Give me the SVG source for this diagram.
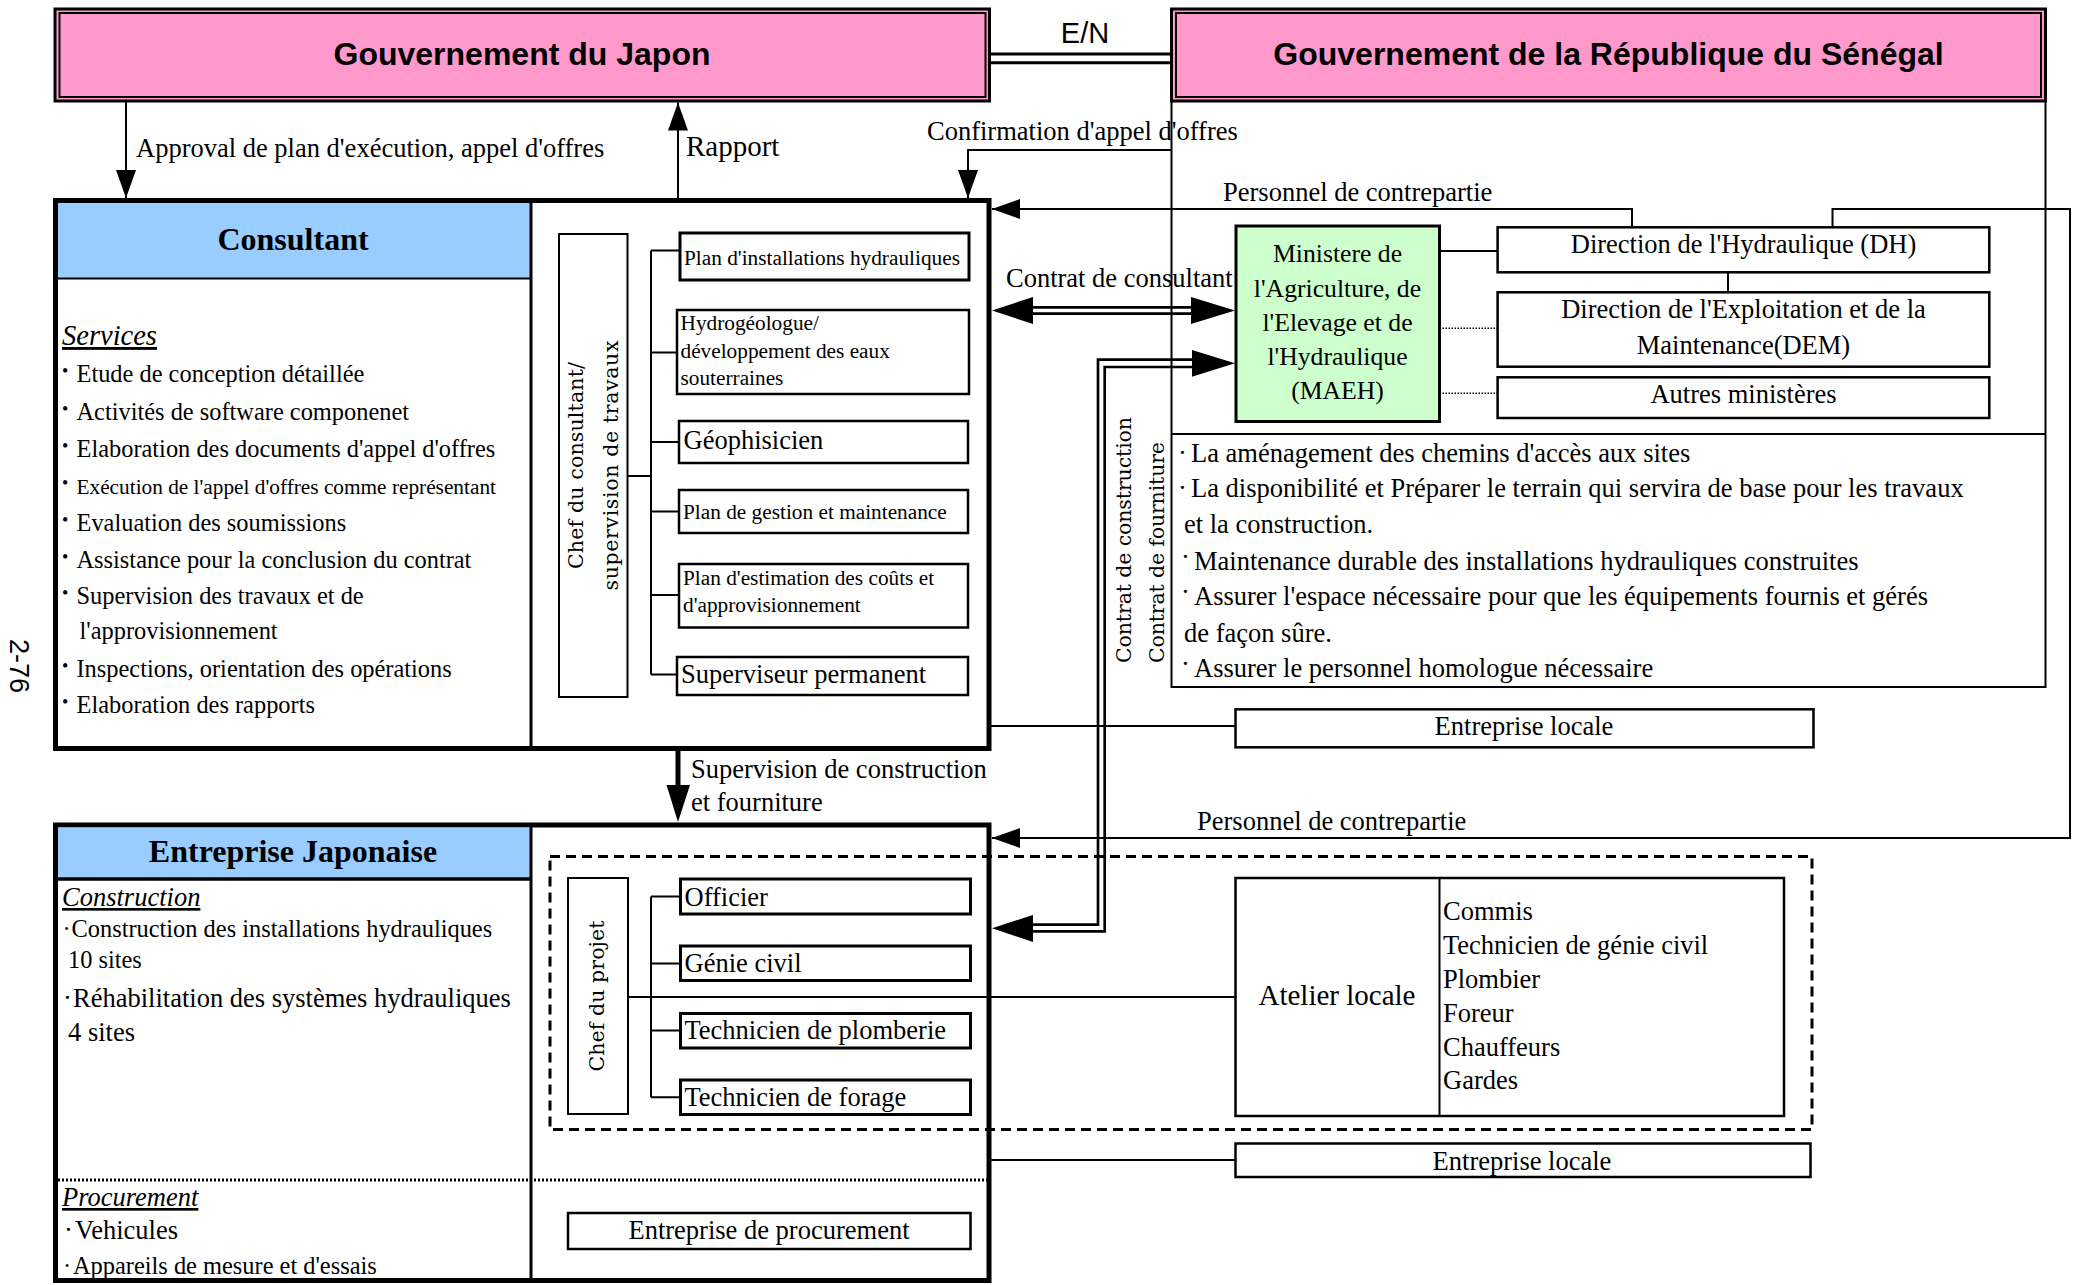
<svg xmlns="http://www.w3.org/2000/svg" width="2076" height="1285" viewBox="0 0 2076 1285">
  <style>
    .s { font-family: 'Liberation Serif', 'Times New Roman', serif; fill: #000; }
    .sans { font-family: 'Liberation Sans', Arial, sans-serif; fill: #000; }
    .bold { font-weight: bold; }
    .r { font-family: 'DejaVu Serif', 'Liberation Serif', serif; fill: #000; font-size: 20.5px; }
    .f21 { font-size: 21.3px; }
    .f24 { font-size: 24.4px; }
    .f26 { font-size: 26.5px; }
    .mid { text-anchor: middle; }
    .ul { text-decoration: underline; font-style: italic; }
    .box { fill: #fff; stroke: #000; stroke-width: 2.5; }
    .thk { fill: #fff; stroke: #000; stroke-width: 3; }
    .ln { fill: none; stroke: #000; stroke-width: 2; }
    .dbl { fill: none; stroke: #000; stroke-width: 2.7; }
    .dot { fill: none; stroke: #000; stroke-width: 1.5; stroke-dasharray: 1.5 1.5; }
    .bul { font-family: 'Liberation Serif', 'Times New Roman', serif; font-size: 18px; }
  </style>
  <defs>
    <marker id="arr" viewBox="0 0 28 20" refX="28" refY="10" markerWidth="28" markerHeight="20" markerUnits="userSpaceOnUse" orient="auto">
      <path d="M0,0 L28,10 L0,20 z" fill="#000"/>
    </marker>
  </defs>

  <rect width="2076" height="1285" fill="#fff"/>

  <!-- page number -->
  <text class="sans" font-size="27" transform="translate(10,639) rotate(90)">2-76</text>

  <!-- Government of Japan -->
  <g id="gov-japon">
    <rect x="55" y="9" width="934.5" height="92" fill="#FF99CC" stroke="#000" stroke-width="3"/>
    <rect x="59.5" y="13" width="926" height="84" fill="none" stroke="#000" stroke-width="2"/>
    <text class="sans bold mid" x="522" y="65" font-size="32">Gouvernement du Japon</text>
  </g>

  <!-- Government of Senegal with its enclosure -->
  <g id="gov-senegal">
    <path class="ln" d="M1171.5,101 V687 H2045.5 V101 M1171.5,434 H2045.5" stroke-width="2.5"/>
    <rect x="1171.5" y="9" width="874" height="92" fill="#FF99CC" stroke="#000" stroke-width="3"/>
    <rect x="1176" y="13" width="865" height="84" fill="none" stroke="#000" stroke-width="2"/>
    <text class="sans bold mid" x="1608.5" y="65" font-size="32">Gouvernement de la République du Sénégal</text>
  </g>

  <!-- Senegal obligations -->
  <g id="obligations" class="s f26">
    <text x="1178" y="461.5">·</text><text x="1191" y="461.5">La aménagement des chemins d'accès aux sites</text>
    <text x="1178" y="496.5">·</text><text x="1191" y="496.5">La disponibilité et Préparer le terrain qui servira de base pour les travaux</text>
    <text x="1184" y="532.5">et la construction.</text>
    <text x="1181" y="566">·</text><text x="1194" y="570">Maintenance durable des installations hydrauliques construites</text>
    <text x="1181" y="601">·</text><text x="1194" y="605">Assurer l'espace nécessaire pour que les équipements fournis et gérés</text>
    <text x="1184" y="641.5">de façon sûre.</text>
    <text x="1181" y="672.5">·</text><text x="1194" y="676.5">Assurer le personnel homologue nécessaire</text>
  </g>

  <!-- Ministry -->
  <g id="maeh">
    <rect x="1236" y="226" width="203.5" height="195.5" fill="#CCFFCC" stroke="#000" stroke-width="3"/>
    <g class="s mid" font-size="25.7">
      <text x="1337.5" y="262">Ministere de</text>
      <text x="1337.5" y="297">l'Agriculture, de</text>
      <text x="1337.5" y="330.5">l'Elevage et de</text>
      <text x="1337.5" y="364.5">l'Hydraulique</text>
      <text x="1337.5" y="398.5">(MAEH)</text>
    </g>
  </g>

  <g id="dh">
    <rect class="box" x="1497.6" y="227.3" width="491.7" height="45"/>
    <text class="s f26 mid" x="1743.5" y="253">Direction de l'Hydraulique (DH)</text>
  </g>
  <g id="dem">
    <rect class="box" x="1497.6" y="292.3" width="491.7" height="74.4"/>
    <text class="s f26 mid" x="1743.5" y="318">Direction de l'Exploitation et de la</text>
    <text class="s f26 mid" x="1743.5" y="353.5">Maintenance(DEM)</text>
  </g>
  <g id="autres">
    <rect class="box" x="1497.6" y="377.3" width="491.7" height="40.7"/>
    <text class="s f26 mid" x="1743.5" y="403">Autres ministères</text>
  </g>

  <!-- Consultant -->
  <g id="consultant">
    <rect x="55.5" y="200.5" width="933.5" height="548" fill="#fff" stroke="#000" stroke-width="5"/>
    <rect x="58" y="203" width="472" height="75.5" fill="#99CCFF"/>
    <path class="ln" d="M58,278.5 H531"/>
    <path d="M531,203 V746" stroke="#000" stroke-width="3"/>
    <text class="s bold mid" x="293" y="250" font-size="32">Consultant</text>
    <text class="s ul" x="62" y="345" font-size="28.5">Services</text>
    <g class="bul">
      <text x="62" y="377">•</text><text x="62" y="415">•</text><text x="62" y="452">•</text>
      <text x="62" y="488.5">•</text><text x="62" y="525.5">•</text><text x="62" y="562.5">•</text>
      <text x="62" y="598.5">•</text><text x="62" y="671.5">•</text><text x="62" y="707.5">•</text>
    </g>
    <g class="s f24">
      <text x="76.5" y="382">Etude de conception détaillée</text>
      <text x="76.5" y="420">Activités de software componenet</text>
      <text x="76.5" y="457">Elaboration des documents d'appel d'offres</text>
      <text x="76.5" y="493.5" font-size="21.3">Exécution de l'appel d'offres comme représentant</text>
      <text x="76.5" y="530.5">Evaluation des soumissions</text>
      <text x="76.5" y="567.5">Assistance pour la conclusion du contrat</text>
      <text x="76.5" y="603.5">Supervision des travaux et de</text>
      <text x="79.5" y="639">l'approvisionnement</text>
      <text x="76.5" y="676.5">Inspections, orientation des opérations</text>
      <text x="76.5" y="712.5">Elaboration des rapports</text>
    </g>
  </g>

  <g id="chef-consultant">
    <rect x="559" y="234" width="68.5" height="463" fill="none" stroke="#000" stroke-width="2"/>
    <text class="r mid" transform="translate(583,465.5) rotate(-90)" textLength="207">Chef du consultant/</text>
    <text class="r mid" transform="translate(618,465.5) rotate(-90)" textLength="250">supervision de travaux</text>
  </g>

  <g id="plan-installations">
    <rect class="thk" x="680" y="233" width="289" height="47"/>
    <text class="s f21" x="684" y="265">Plan d'installations hydrauliques</text>
  </g>
  <g id="hydrogeologue">
    <rect class="box" x="677" y="310" width="292" height="84" stroke-width="2"/>
    <text class="s f21" x="680.5" y="330">Hydrogéologue/</text>
    <text class="s f21" x="680.5" y="357.5">développement des eaux</text>
    <text class="s f21" x="680.5" y="385">souterraines</text>
  </g>
  <g id="geophisicien">
    <rect class="box" x="679" y="421" width="289" height="42"/>
    <text class="s f26" x="683.5" y="449">Géophisicien</text>
  </g>
  <g id="plan-gestion">
    <rect class="box" x="679" y="490" width="289" height="43"/>
    <text class="s f21" x="683" y="518.5">Plan de gestion et maintenance</text>
  </g>
  <g id="plan-estimation">
    <rect class="box" x="679" y="564" width="289" height="63.5"/>
    <text class="s f21" x="683" y="585">Plan d'estimation des coûts et</text>
    <text class="s f21" x="683" y="612">d'approvisionnement</text>
  </g>
  <g id="superviseur">
    <rect class="box" x="677" y="657" width="291" height="38"/>
    <text class="s f26" x="681" y="683">Superviseur permanent</text>
  </g>

  <!-- Japanese contractor -->
  <g id="entreprise-japonaise">
    <rect x="55.5" y="825" width="933.5" height="455.5" fill="#fff" stroke="#000" stroke-width="5"/>
    <rect x="58" y="827.5" width="472" height="51" fill="#99CCFF"/>
    <path d="M58,879 H531" stroke="#000" stroke-width="3.5"/>
    <path d="M531,827 V1278" stroke="#000" stroke-width="3"/>
    <path d="M58,1180 H987" stroke="#000" stroke-width="3" stroke-dasharray="2 2"/>
    <text class="s bold mid" x="293" y="862" font-size="32">Entreprise Japonaise</text>
    <text class="s ul f26" x="62" y="906">Construction</text>
    <text class="s f24" x="62.5" y="937">·</text>
    <text class="s f24" x="71.5" y="937">Construction des installations hydrauliques</text>
    <text class="s f24" x="68" y="968">10 sites</text>
    <text class="s f26" x="63" y="1007">·</text>
    <text class="s f26" x="73" y="1007">Réhabilitation des systèmes hydrauliques</text>
    <text class="s f26" x="68" y="1041">4 sites</text>
    <text class="s ul f26" x="62" y="1206">Procurement</text>
    <text class="s f26" x="64" y="1239">·</text>
    <text class="s f26" x="75" y="1239">Vehicules</text>
    <text class="s f24" x="63" y="1273.5">·</text>
    <text class="s f24" x="73" y="1273.5">Appareils de mesure et d'essais</text>
  </g>

  <g id="chantier">
    <rect x="550" y="856.5" width="1262" height="273" fill="none" stroke="#000" stroke-width="3" stroke-dasharray="10 6"/>
  </g>

  <g id="chef-projet">
    <rect x="568" y="878" width="60" height="236" fill="none" stroke="#000" stroke-width="2"/>
    <text class="r mid" transform="translate(604,996) rotate(-90)" textLength="151">Chef du projet</text>
  </g>
  <g id="officier">
    <rect class="thk" x="680.5" y="879" width="290" height="35"/>
    <text class="s f26" x="684.5" y="906">Officier</text>
  </g>
  <g id="genie-civil">
    <rect class="thk" x="680.5" y="946" width="290" height="34.5"/>
    <text class="s f26" x="684.5" y="972">Génie civil</text>
  </g>
  <g id="plomberie">
    <rect class="thk" x="680.5" y="1013.5" width="290" height="34.5"/>
    <text class="s f26" x="684.5" y="1039">Technicien de plomberie</text>
  </g>
  <g id="forage">
    <rect class="thk" x="680.5" y="1080" width="290" height="34.5"/>
    <text class="s f26" x="684.5" y="1105.5">Technicien de forage</text>
  </g>
  <g id="procurement">
    <rect class="box" x="568" y="1213" width="402.5" height="36"/>
    <text class="s f26 mid" x="769" y="1239">Entreprise de procurement</text>
  </g>

  <g id="atelier-locale">
    <rect class="box" x="1235.5" y="878" width="548.5" height="238" stroke-width="2"/>
    <path class="ln" d="M1439.5,878 V1116"/>
    <text class="s mid" x="1337" y="1005" font-size="29">Atelier locale</text>
    <g class="s f26">
      <text x="1443" y="919.5">Commis</text>
      <text x="1443" y="953.8">Technicien de génie civil</text>
      <text x="1443" y="988">Plombier</text>
      <text x="1443" y="1022">Foreur</text>
      <text x="1443" y="1055.5">Chauffeurs</text>
      <text x="1443" y="1088.5">Gardes</text>
    </g>
  </g>

  <g id="entreprise-locale-1">
    <rect class="box" x="1235.5" y="709.3" width="578" height="38"/>
    <text class="s f26 mid" x="1524" y="735">Entreprise locale</text>
  </g>
  <g id="entreprise-locale-2">
    <rect class="box" x="1235.5" y="1143.5" width="575" height="33.5"/>
    <text class="s f26 mid" x="1522" y="1170">Entreprise locale</text>
  </g>

  <!-- connectors -->
  <g id="connectors">
    <!-- exchange of notes -->
    <path d="M989.5,54 H1171.5 M989.5,62.7 H1171.5" stroke="#000" stroke-width="3"/>
    <text class="sans mid" x="1085" y="43" font-size="29">E/N</text>

    <path class="ln" d="M126,101 V198" marker-end="url(#arr)"/>
    <text class="s f26" x="136" y="157">Approval de plan d'exécution, appel d'offres</text>

    <path class="ln" d="M678,198 V102.5" marker-end="url(#arr)"/>
    <text class="s" x="686" y="156" font-size="29">Rapport</text>

    <path class="ln" d="M1171.5,150 H968 V198" marker-end="url(#arr)"/>
    <text class="s f26" x="927" y="140">Confirmation d'appel d'offres</text>

    <!-- counterpart staff -->
    <path class="ln" d="M1632,227.3 V209 H992" marker-end="url(#arr)"/>
    <text class="s f26" x="1223" y="201">Personnel de contrepartie</text>
    <path class="ln" d="M1832.5,227.3 V209 H2070 V838 H992" marker-end="url(#arr)"/>
    <text class="s f26" x="1197" y="830">Personnel de contrepartie</text>

    <!-- consultant contract -->
    <path class="dbl" d="M1030,307.3 H1195 M1030,313.7 H1195"/>
    <polygon points="992,310.5 1033,297 1033,324" fill="#000"/>
    <polygon points="1235,310.5 1191,297 1191,324" fill="#000"/>
    <text class="s f26" x="1006" y="287">Contrat de consultant</text>

    <!-- construction and supply contracts -->
    <path class="dbl" d="M1195,359.7 H1098 V924.7 H1030"/>
    <path class="dbl" d="M1195,367 H1104.7 V931.4 H1030"/>
    <polygon points="1235,363.3 1192,350 1192,376.7" fill="#000"/>
    <polygon points="992,928.3 1033,915 1033,942" fill="#000"/>
    <text class="r" transform="translate(1131,663) rotate(-90)" textLength="246">Contrat de construction</text>
    <text class="r" transform="translate(1164,663) rotate(-90)" textLength="221">Contrat de fourniture</text>

    <!-- ministry links -->
    <path class="ln" d="M1439.5,251 H1497.6" stroke-width="2.5"/>
    <path class="ln" d="M1728,272.3 V292.3"/>
    <path class="dot" d="M1439.5,328.3 H1497.6 M1439.5,393.3 H1497.6"/>

    <!-- consultant team tree -->
    <path class="ln" d="M627.5,476 H651 M651,250.5 V674.5 M651,250.5 H680 M651,352.5 H677 M651,442 H679 M651,511.5 H679 M651,595 H679 M651,674.5 H677"/>

    <!-- supervision -->
    <path d="M678,748 V790" stroke="#000" stroke-width="5"/>
    <polygon points="678,822 666.5,785 690,785" fill="#000"/>
    <text class="s f26" x="691" y="778">Supervision de construction</text>
    <text class="s f26" x="691" y="811">et fourniture</text>

    <!-- local companies -->
    <path class="ln" d="M989,726 H1235.5"/>
    <path class="ln" d="M989,1160 H1235.5"/>

    <!-- contractor team tree -->
    <path class="ln" d="M628,997 H1235.5 M651,896.5 V1097.3 M651,896.5 H680.5 M651,963.5 H680.5 M651,1030.5 H680.5 M651,1097.3 H680.5"/>
  </g>
</svg>
